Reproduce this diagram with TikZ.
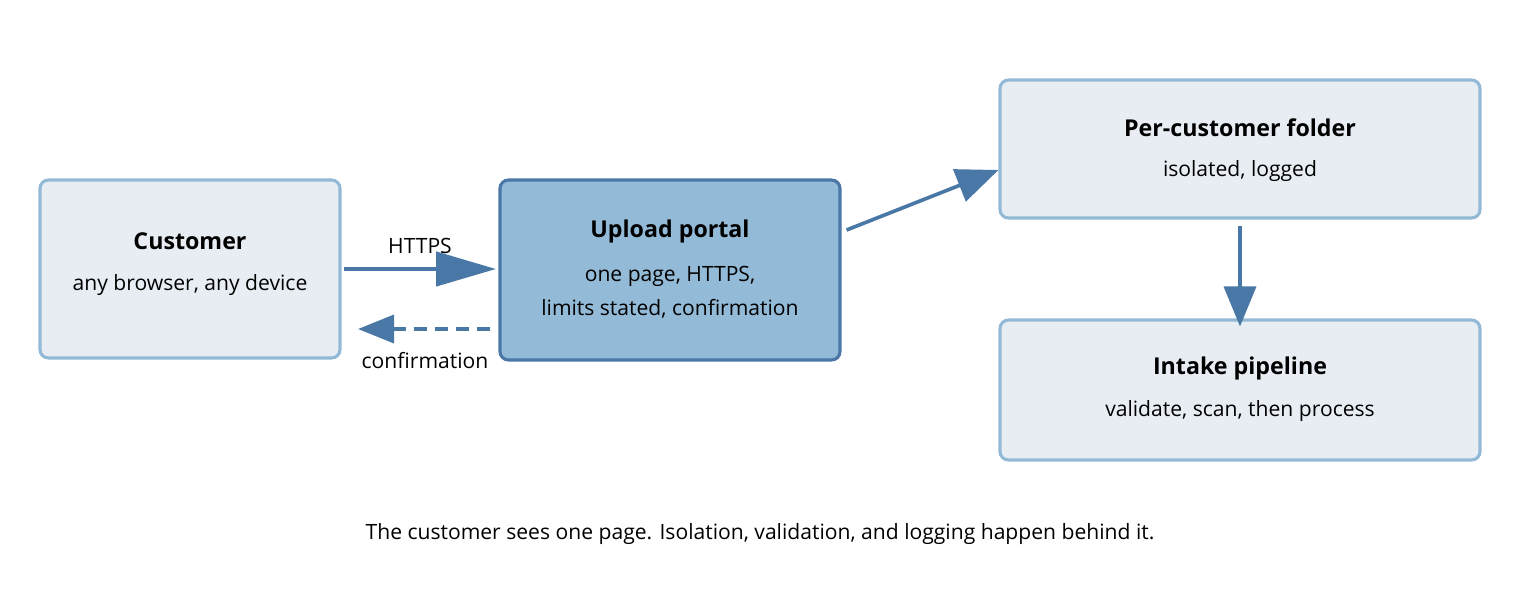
\documentclass[tikz,border=0pt]{standalone}
\usepackage{fontspec}
\setmainfont{Open Sans}
\usetikzlibrary{arrows.meta}
\definecolor{boxfill}{HTML}{E8EDF4}
\definecolor{boxline}{HTML}{92BAD6}
\definecolor{portalfill}{HTML}{93BAD6}
\definecolor{portalline}{HTML}{4A77A8}
\definecolor{arrowcol}{HTML}{4A78A6}
\begin{document}
\begin{tikzpicture}
		[x=0.025cm,y=-0.025cm,
		%Styles
		box/.style={rounded corners=6pt,fill=boxfill,draw=boxline,line width=2.2pt,align=center,inner sep=0pt},
		portal/.style={box,fill=portalfill,draw=portalline},
		title text/.style={font=\fontsize{16.5}{20}\selectfont\bfseries},
		body text/.style={font=\fontsize{15}{24}\selectfont},
		flow/.style={draw=arrowcol,line width=3.2pt},
		]
		\useasboundingbox (0,0) rectangle (1520,600);
		
		%The graphic
		\node[box,minimum width=300*0.025cm,minimum height=178*0.025cm] (customer) at (190,269) {};
		\node[title text] (customer title) at (190,241) {Customer};
		\node[body text] (customer sub) at (190,285) {any browser, any device};
		
		\node[portal,minimum width=340*0.025cm,minimum height=180*0.025cm] (portal) at (670,270) {};
		\node[title text] (portal title) at (670,231) {Upload portal};
		\node[body text,align=center] (portal sub) at (670,292) {one page, HTTPS,\\limits stated, confirmation};
		
		\node[box,minimum width=480*0.025cm,minimum height=138*0.025cm] (folder) at (1240,149) {};
		\node[title text] (folder title) at (1240,128) {Per-customer folder};
		\node[body text] (folder sub) at (1240,171) {isolated, logged};
		
		\node[box,minimum width=480*0.025cm,minimum height=140*0.025cm] (pipeline) at (1240,390) {};
		\node[title text] (pipeline title) at (1240,368) {Intake pipeline};
		\node[body text] (pipeline sub) at (1240,411) {validate, scan, then process};
		
		\coordinate (https a) at (344,269);
		\coordinate (https b) at (496,269);
		\coordinate (conf a) at (490,329);
		\coordinate (conf b) at (358,329);
		
		\draw[flow,-{Triangle[length=60*0.025cm,width=34*0.025cm]}] (https a) -- (https b)
			node[midway,above=6pt,body text] (https label) {HTTPS};
		\draw[flow,line width=2.6pt,dash pattern=on 9pt off 6pt,-{Triangle[length=36*0.025cm,width=28*0.025cm]}] (conf a) -- (conf b);
		\node[body text] (conf label) at (425,361) {confirmation};
		\draw[flow,line width=2.6pt,-{Triangle[length=42*0.025cm,width=34*0.025cm]}] (portal.east) ++(5,-40) -- (folder.west |- 0,170) ;
		\draw[flow,line width=2.6pt,-{Triangle[length=40*0.025cm,width=32*0.025cm]}] (folder.south) ++(0,6) -- ([yshift=-8*0.025cm]pipeline.north);
		
		\node[body text] (caption) at (760,534) {The customer sees one page. Isolation, validation, and logging happen behind it.};
	\end{tikzpicture}
\end{document}
